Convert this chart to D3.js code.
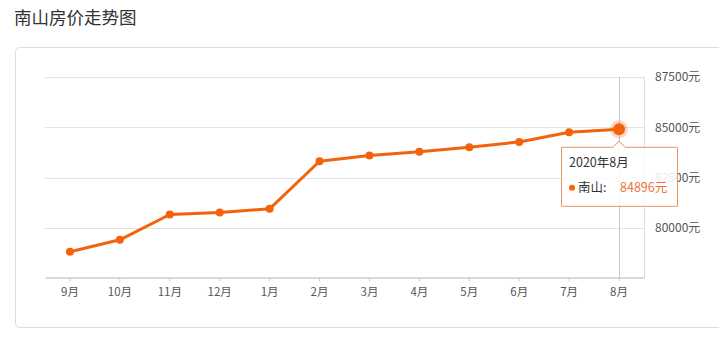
<!DOCTYPE html>
<html>
<head>
<meta charset="utf-8">
<script src="https://cdn.jsdelivr.net/npm/d3@7"></script>
<style>
  body { margin: 0; background: #fff; font-family: "Noto Sans CJK SC", "Noto Sans", sans-serif; }
  svg { display: block; }
</style>
</head>
<body>
<div id="chart"></div>
<script>
// chart data
var months = ['9月', '10月', '11月', '12月', '1月', '2月', '3月', '4月', '5月', '6月', '7月', '8月'];
var prices = [78810, 79400, 80660, 80760, 80940, 83310, 83600, 83780, 84010, 84270, 84750, 84896];
var yTicks = [80000, 82500, 85000, 87500];
var seriesName = '南山';
var activeLabel = '2020年8月';
var activeIndex = 11;

var attrs = {
  width: 719,
  height: 337,
  left: 45,
  right: 644,
  top: 77,
  bottom: 278,
  color: '#f4630c'
};

var svg = d3.select('#chart').append('svg')
  .attr('width', attrs.width)
  .attr('height', attrs.height);

// title
svg.append('text')
  .attr('x', 14).attr('y', 24)
  .attr('font-size', 17.5).attr('fill', '#333')
  .text('南山房价走势图');

// panel border
svg.append('rect')
  .attr('x', 15.5).attr('y', 47.5)
  .attr('width', 740).attr('height', 280)
  .attr('rx', 4)
  .attr('fill', 'none').attr('stroke', '#ddd');

var x = d3.scaleBand().domain(months).range([attrs.left, attrs.right]);
var y = d3.scaleLinear().domain([77500, 87500]).range([attrs.bottom, attrs.top]);
var cx = function (d) { return x(d) + x.bandwidth() / 2; };

// gridlines
svg.append('g').selectAll('line')
  .data(yTicks).enter().append('line')
  .attr('x1', attrs.left).attr('x2', attrs.right)
  .attr('y1', function (d) { return Math.round(y(d)) + 0.5; })
  .attr('y2', function (d) { return Math.round(y(d)) + 0.5; })
  .attr('stroke', '#e3e3e3');

// right edge
svg.append('line')
  .attr('x1', attrs.right + 0.5).attr('x2', attrs.right + 0.5)
  .attr('y1', attrs.top).attr('y2', attrs.bottom)
  .attr('stroke', '#ddd');

// y axis on the right
var yAxis = svg.append('g')
  .attr('transform', 'translate(' + (attrs.right + 11) + ',0)')
  .call(d3.axisRight(y).tickValues(yTicks).tickSize(0).tickPadding(0)
    .tickFormat(function (d) { return d + '元'; }));
yAxis.select('.domain').remove();
yAxis.selectAll('text')
  .attr('font-family', '"Noto Sans CJK SC", sans-serif')
  .attr('font-size', 12).attr('fill', '#555');

// x axis
var xAxis = svg.append('g')
  .attr('transform', 'translate(0,' + (attrs.bottom - 0.5) + ')')
  .call(d3.axisBottom(x).tickSize(4).tickPadding(6).tickSizeOuter(0));
xAxis.select('.domain').attr('stroke', '#ccc').attr('stroke-width', 1.5);
xAxis.selectAll('.tick line').attr('stroke', '#ccc');
xAxis.selectAll('text')
  .attr('font-family', '"Noto Sans CJK SC", sans-serif')
  .attr('font-size', 11.5).attr('fill', '#555');

// crosshair
svg.append('line')
  .attr('x1', Math.round(cx(months[activeIndex])) + 0.5)
  .attr('x2', Math.round(cx(months[activeIndex])) + 0.5)
  .attr('y1', attrs.top).attr('y2', attrs.bottom)
  .attr('stroke', '#c8c8c8');

// line
var line = d3.line()
  .x(function (d, i) { return cx(months[i]); })
  .y(function (d) { return y(d); });

svg.append('path')
  .datum(prices)
  .attr('d', line)
  .attr('fill', 'none')
  .attr('stroke', attrs.color)
  .attr('stroke-width', 3)
  .attr('stroke-linejoin', 'round');

svg.append('g').selectAll('circle')
  .data(prices).enter().append('circle')
  .attr('cx', function (d, i) { return cx(months[i]); })
  .attr('cy', function (d) { return y(d); })
  .attr('r', 4)
  .attr('fill', attrs.color);

// highlighted point
var ax = cx(months[activeIndex]);
var ay = y(prices[activeIndex]);
svg.append('circle')
  .attr('cx', ax).attr('cy', ay).attr('r', 9)
  .attr('fill', attrs.color).attr('opacity', 0.25);
svg.append('circle')
  .attr('cx', ax).attr('cy', ay).attr('r', 6)
  .attr('fill', attrs.color);

// tooltip
var tip = svg.append('g').attr('transform', 'translate(' + (ax - 58) + ',' + (ay + 17.5) + ')');
var tw = 116, th = 59;
tip.append('path')
  .attr('d', 'M0.5,0.5 H' + (58 - 6) + ' L58,-6 L' + (58 + 6) + ',0.5 H' + (tw + 0.5) +
    ' V' + (th + 0.5) + ' H0.5 Z')
  .attr('fill', 'rgba(255,255,255,0.88)')
  .attr('stroke', '#eb9460');
tip.append('text')
  .attr('x', 8).attr('y', 20)
  .attr('font-size', 12.5).attr('fill', '#333')
  .text(activeLabel);
tip.append('circle')
  .attr('cx', 11).attr('cy', 41).attr('r', 3)
  .attr('fill', attrs.color);
tip.append('text')
  .attr('x', 17).attr('y', 45)
  .attr('font-size', 12.5).attr('fill', '#333')
  .text(seriesName + ':');
tip.append('text')
  .attr('x', 59).attr('y', 45)
  .attr('font-size', 12.5).attr('fill', '#e9733c')
  .text(prices[activeIndex] + '元');
</script>
</body>
</html>
